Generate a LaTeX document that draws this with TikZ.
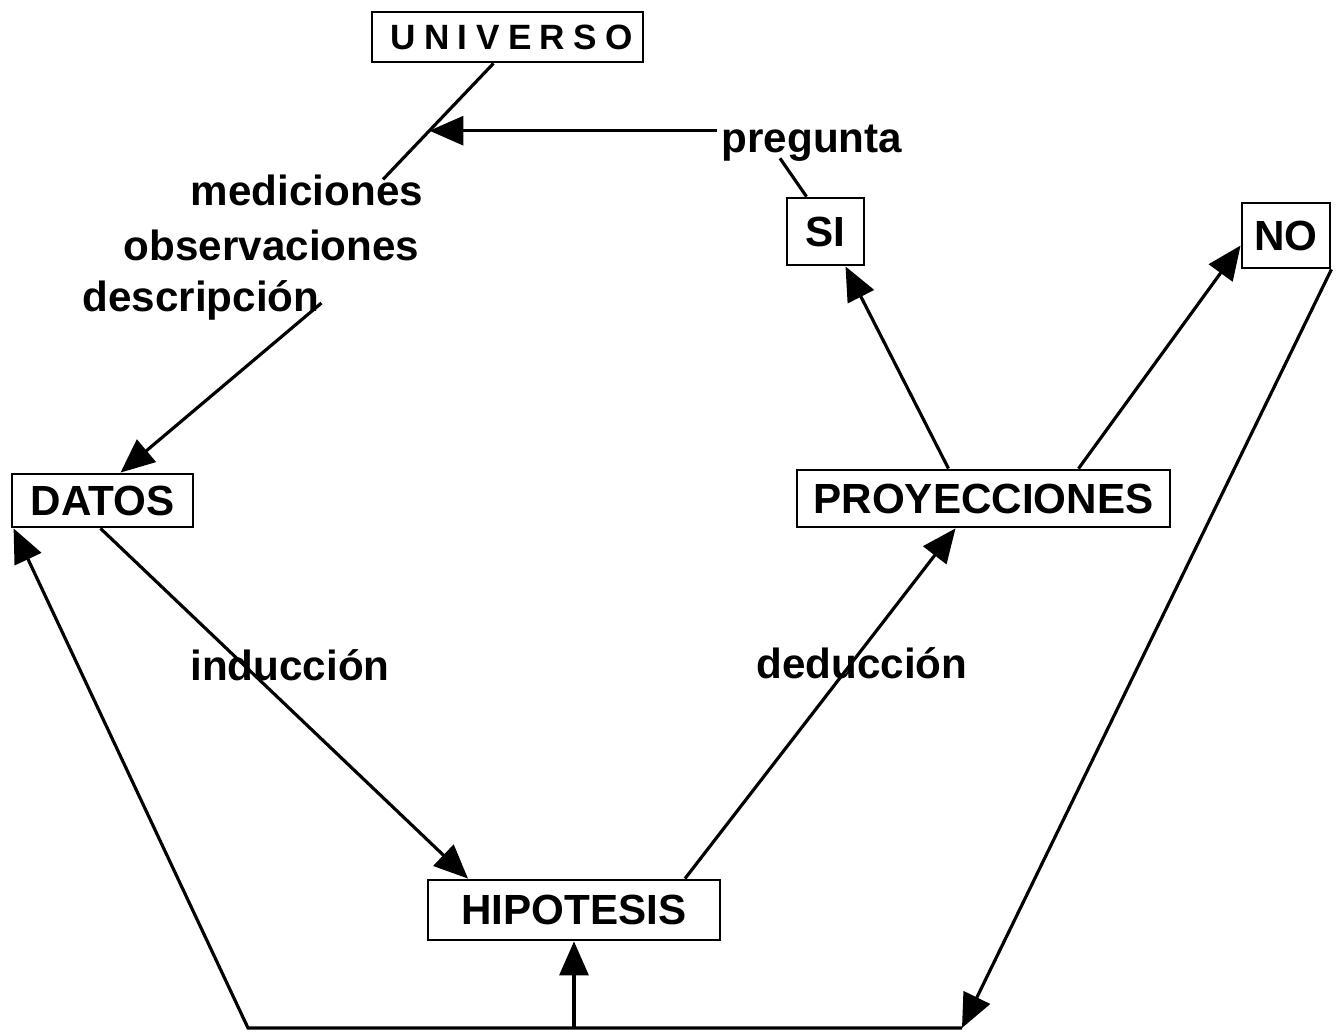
\documentclass[tikz,border=0pt]{standalone}
\usepackage{fontspec}
\setmainfont{Liberation Sans}
\usetikzlibrary{arrows.meta}
\tikzset{
 box/.style={draw,line width=0.8pt,inner sep=0pt,font=\fontsize{12}{14}\selectfont\bfseries},
 lbl/.style={inner sep=1pt,font=\fontsize{12}{14}\selectfont\bfseries},
 arr/.style={-{Triangle[length=0.34cm,width=0.29cm]}},
}
\begin{document}
\begin{tikzpicture}[line width=0.9pt]
 \useasboundingbox (0,0) rectangle (13.38,-10.33);
 % boxes
 \node[box,minimum width=2.71cm,minimum height=0.5cm,font=\fontsize{10}{12}\selectfont\bfseries\addfontfeatures{LetterSpace=24}] (universo) at (5.075,-0.37) {UNIVERSO\kern-2.4pt};
 \node[box,minimum width=0.77cm,minimum height=0.67cm] (si) at (8.255,-2.315) {SI};
 \node[box,minimum width=0.88cm,minimum height=0.65cm] (no) at (12.86,-2.355) {NO};
 \node[box,minimum width=1.81cm,minimum height=0.53cm] (datos) at (1.025,-5.005) {DATOS};
 \node[box,minimum width=3.73cm,minimum height=0.57cm] (proy) at (9.835,-4.985) {PROYECCIONES};
 \node[box,minimum width=2.92cm,minimum height=0.6cm] (hipotesis) at (5.74,-9.10) {HIPOTESIS};
 % labels
 \node[lbl] (pregunta) at (8.12,-1.43) {pregunta};
 \node[lbl] (mediciones) at (3.07,-1.90) {mediciones};
 \node[lbl] (observaciones) at (2.715,-2.45) {observaciones};
 \node[lbl] (descripcion) at (2.01,-3.00) {descripción};
 \node[lbl] (induccion) at (2.90,-6.65) {inducción};
 \node[lbl] (deduccion) at (8.62,-6.63) {deducción};
 % bottom corners
 \coordinate (bl) at (2.48,-10.28);
 \coordinate (br) at (9.62,-10.28);
 % connectors
 \draw ([xshift=-0.14cm]universo.south) -- ([xshift=0.76cm,yshift=-0.1cm]mediciones.north)
  coordinate[pos=0.58] (hit);
 \draw[arr] (pregunta.west |- hit) -- (hit);
 \draw ([xshift=-0.32cm,yshift=0.08cm]pregunta.south) -- ([xshift=-0.19cm]si.north);
 \draw[arr] ([xshift=-0.03cm,yshift=-0.03cm]descripcion.east) -- ([xshift=0.18cm]datos.north);
 \draw[arr] ([xshift=-0.02cm]datos.south) -- ([xshift=-1.06cm]hipotesis.north);
 \draw[arr] ([xshift=1.11cm]hipotesis.north) -- ([xshift=-0.28cm]proy.south);
 \draw[arr] ([xshift=-0.35cm]proy.north) -- ([xshift=0.2cm]si.south);
 \draw[arr] ([xshift=0.95cm]proy.north) -- ([yshift=-0.1cm]no.west);
 \draw[arr] (no.south east) -- (br);
 \draw[arr] (br) -- (bl) -- ([xshift=0.03cm]datos.south west);
 \draw[arr] (hipotesis.south |- bl) -- (hipotesis.south);
\end{tikzpicture}
\end{document}
